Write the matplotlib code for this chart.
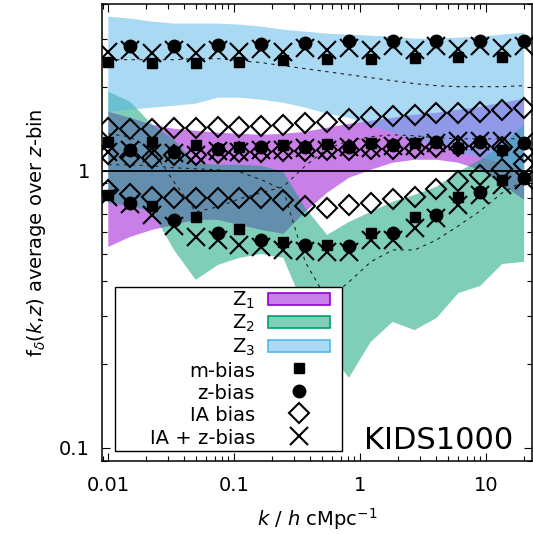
import matplotlib
matplotlib.use("Agg")
import matplotlib.pyplot as plt
from matplotlib.colors import to_rgba
from matplotlib.legend_handler import HandlerPatch
from matplotlib.lines import Line2D
from matplotlib.patches import Patch, Rectangle
from matplotlib.ticker import FixedLocator, FixedFormatter, LogLocator, NullFormatter

# wavenumber grid [h/cMpc]
k = [0.0100, 0.0149, 0.0223, 0.0332, 0.0495, 0.0739, 0.110, 0.164, 0.245, 0.366,
     0.546, 0.814, 1.21, 1.81, 2.70, 4.03, 6.02, 8.97, 13.4, 20.0]

# shaded ranges for each redshift bin
z1_lo = [0.531, 0.577, 0.612, 0.638, 0.665, 0.665, 0.638, 0.612, 0.592, 0.711,
         0.833, 0.943, 1.008, 1.069, 1.096, 1.096, 1.069, 1.008, 0.890, 0.786]
z1_hi = [1.634, 1.554, 1.467, 1.418, 1.395, 1.372, 1.360, 1.349, 1.360, 1.383,
         1.430, 1.479, 1.516, 1.554, 1.594, 1.620, 1.662, 1.703, 1.761, 1.820]
z2_lo = [0.766, 0.747, 0.711, 0.518, 0.404, 0.457, 0.485, 0.501, 0.485, 0.315,
         0.225, 0.179, 0.241, 0.285, 0.266, 0.294, 0.362, 0.384, 0.461, 0.469]
z2_hi = [1.930, 1.776, 1.467, 1.294, 1.069, 1.051, 1.051, 1.042, 0.992, 0.735,
         0.587, 0.654, 0.711, 0.773, 0.819, 0.876, 0.992, 1.096, 1.242, 1.467]
z3_lo = [1.634, 1.662, 1.690, 1.718, 1.747, 1.836, 1.836, 1.806, 1.761, 1.690,
         1.607, 1.554, 1.454, 1.372, 1.294, 1.231, 1.171, 1.114, 1.069, 1.008]
z3_hi = [3.603, 3.543, 3.456, 3.399, 3.399, 3.399, 3.370, 3.314, 3.232, 3.179,
         3.127, 3.101, 3.075, 3.050, 2.999, 2.999, 3.024, 3.050, 3.101, 3.153]

# dashed reference curves
z1_dash = [1.360, 1.327, 1.191, 0.912, 0.711, 0.741, 0.792, 0.833, 0.876, 1.042,
           1.201, 1.284, 1.327, 1.349, 1.338, 1.316, 1.305, 1.305, 1.305, 1.305]
z2_dash = [1.051, 1.051, 1.042, 1.025, 1.017, 1.008, 0.992, 0.928, 0.854, 0.469,
           0.342, 0.397, 0.469, 0.518, 0.518, 0.563, 0.633, 0.717, 0.833, 0.920]
z3_dash = [2.518, 2.518, 2.518, 2.518, 2.540, 2.540, 2.497, 2.457, 2.396, 2.337,
           2.279, 2.223, 2.168, 2.115, 2.063, 2.029, 2.012, 2.012, 2.012, 2.029]

# m-bias (every other k, starting at the first)
z1_m = [1.273, 1.273, 1.242, 1.221, 1.242, 1.252, 1.262, 1.262, 1.211, 1.191]
z2_m = [0.819, 0.747, 0.682, 0.617, 0.554, 0.540, 0.597, 0.682, 0.805, 0.928]
z3_m = [2.46, 2.44, 2.44, 2.48, 2.52, 2.54, 2.54, 2.56, 2.58, 2.58]

# z-bias (every other k, starting at the second)
z1_z = [1.191, 1.171, 1.201, 1.221, 1.221, 1.221, 1.242, 1.273, 1.273, 1.262]
z2_z = [0.766, 0.665, 0.597, 0.563, 0.540, 0.536, 0.597, 0.693, 0.840, 0.943]
z3_z = [2.81, 2.83, 2.85, 2.88, 2.90, 2.93, 2.95, 2.95, 2.95, 2.95]

# IA bias
z1_ia = [1.152, 1.124, 1.114, 1.142, 1.142, 1.161, 1.171, 1.171, 1.181, 1.181,
         1.191, 1.191, 1.201, 1.201, 1.211, 1.221, 1.231, 1.231, 1.221, 1.171]
z2_ia = [0.854, 0.826, 0.805, 0.799, 0.799, 0.799, 0.799, 0.799, 0.786, 0.747,
         0.735, 0.754, 0.766, 0.792, 0.805, 0.861, 0.920, 0.967, 1.017, 1.060]
z3_ia = [1.430, 1.418, 1.418, 1.430, 1.430, 1.442, 1.442, 1.454, 1.467, 1.491,
         1.503, 1.541, 1.567, 1.580, 1.594, 1.620, 1.620, 1.634, 1.662, 1.690]

# IA + z-bias
z1_iaz = [1.171, 1.191, 1.161, 1.161, 1.142, 1.181, 1.171, 1.191, 1.191, 1.211,
          1.191, 1.221, 1.211, 1.231, 1.231, 1.262, 1.284, 1.284, 1.284, 1.273]
z2_iaz = [0.805, 0.760, 0.693, 0.633, 0.577, 0.563, 0.540, 0.531, 0.518, 0.514,
          0.510, 0.510, 0.563, 0.563, 0.622, 0.676, 0.754, 0.819, 0.890, 0.928]
z3_iaz = [2.69, 2.72, 2.67, 2.72, 2.67, 2.74, 2.69, 2.76, 2.69, 2.78,
          2.72, 2.78, 2.74, 2.81, 2.74, 2.81, 2.76, 2.83, 2.78, 2.83]

bin_labels = ["Z$_1$", "Z$_2$", "Z$_3$"]
bin_colors = ["darkviolet", "#009e73", "#56b4e9"]
marker_labels = ["m-bias", "z-bias", "IA bias", "IA + z-bias"]
xtick_vals = [0.01, 0.1, 1, 10]
xtick_labels = ["0.01", "0.1", "1", "10"]
ytick_vals = [0.1, 1]
ytick_labels = ["0.1", "1"]

bands = [(z1_lo, z1_hi), (z2_lo, z2_hi), (z3_lo, z3_hi)]
dashes = [z1_dash, z2_dash, z3_dash]
m_bias = [z1_m, z2_m, z3_m]
z_bias = [z1_z, z2_z, z3_z]
ia_bias = [z1_ia, z2_ia, z3_ia]
iaz_bias = [z1_iaz, z2_iaz, z3_iaz]

fig = plt.figure(figsize=(5.33, 5.34), dpi=100)
ax = fig.add_axes([0.1919, 0.1376, 0.8071, 0.8549])
ax.set_xscale("log")
ax.set_yscale("log")

for (lo, hi), c in zip(bands, bin_colors):
    ax.fill_between(k, lo, hi, facecolor=c, alpha=0.5, linewidth=0, zorder=1)

for d in dashes:
    ax.plot(k, d, color="#222222", lw=0.8, ls=(0, (3, 4)), zorder=2)

ax.axhline(1.0, color="black", lw=1.3, zorder=2.5)

k_even = k[0::2]
k_odd = k[1::2]
for ia, iaz, mb, zb in zip(ia_bias, iaz_bias, m_bias, z_bias):
    ax.plot(k, ia, ls="none", marker="D", ms=10, mfc="none", mec="black", mew=1.5, zorder=3)
    ax.plot(k, iaz, ls="none", marker="x", ms=12.5, mec="black", mew=1.5, zorder=3)
    ax.plot(k_even, mb, ls="none", marker="s", ms=7.5, mfc="black", mec="black", mew=1, zorder=3.2)
    ax.plot(k_odd, zb, ls="none", marker="o", ms=9, mfc="black", mec="black", mew=1, zorder=3.3)

ax.set_xlim(0.00896, 23.3)
ax.set_ylim(0.09, 4.0)

ax.xaxis.set_major_locator(FixedLocator(xtick_vals))
ax.xaxis.set_major_formatter(FixedFormatter(xtick_labels))
ax.xaxis.set_minor_locator(LogLocator(base=10, subs=range(2, 10), numticks=20))
ax.xaxis.set_minor_formatter(NullFormatter())
ax.yaxis.set_major_locator(FixedLocator(ytick_vals))
ax.yaxis.set_major_formatter(FixedFormatter(ytick_labels))
ax.yaxis.set_minor_locator(LogLocator(base=10, subs=range(2, 10), numticks=20))
ax.yaxis.set_minor_formatter(NullFormatter())

ax.tick_params(which="both", direction="in", top=True, right=True, width=0.8, labelsize=14)
ax.tick_params(which="major", length=6)
ax.tick_params(which="minor", length=3.5)
ax.tick_params(axis="x", which="major", pad=11)
ax.tick_params(axis="y", which="major", pad=9)
for s in ax.spines.values():
    s.set_linewidth(1.1)

ax.set_xlabel("$k$ / $h$ cMpc$^{-1}$", fontsize=14, labelpad=8)
ax.set_ylabel("f$_{\\delta}$($k$,$z$) average over $z$-bin", fontsize=14, labelpad=8)

ax.text(0.955, 0.026, "KIDS1000", transform=ax.transAxes, ha="right",
        va="baseline", fontsize=22, zorder=6)


def flat_swatch(legend, orig_handle, xdescent, ydescent, width, height, fontsize):
    # thin colour swatch, vertically centred in the (taller) handle box
    h = 0.62 * fontsize
    return Rectangle((-xdescent, -ydescent + (height - h) / 2.0), width, h)


# legend: labels on the left, handles on the right, inside a white box
ax.add_patch(Rectangle((0.0295, 0.0208), 0.5275, 0.359, transform=ax.transAxes,
                       facecolor="white", edgecolor="black", lw=1.0, zorder=4.5))
handles = [Patch(facecolor=to_rgba(c, 0.5), edgecolor=c, lw=1.2) for c in bin_colors]
handles += [
    Line2D([], [], ls="none", marker="s", ms=7.5, mfc="black", mec="black"),
    Line2D([], [], ls="none", marker="o", ms=9, mfc="black", mec="black"),
    Line2D([], [], ls="none", marker="D", ms=10, mfc="none", mec="black", mew=1.5),
    Line2D([], [], ls="none", marker="x", ms=12.5, mec="black", mew=1.5),
]
leg = ax.legend(handles, bin_labels + marker_labels, loc="center right",
                bbox_to_anchor=(0.529, 0.202), frameon=False, borderpad=0,
                borderaxespad=0, markerfirst=False, handlelength=3.2,
                handleheight=1.2, handletextpad=0.65, labelspacing=0.1,
                fontsize=14, handler_map={Patch: HandlerPatch(patch_func=flat_swatch)})
leg.set_zorder(5)

fig.savefig("out.png", dpi=100)
